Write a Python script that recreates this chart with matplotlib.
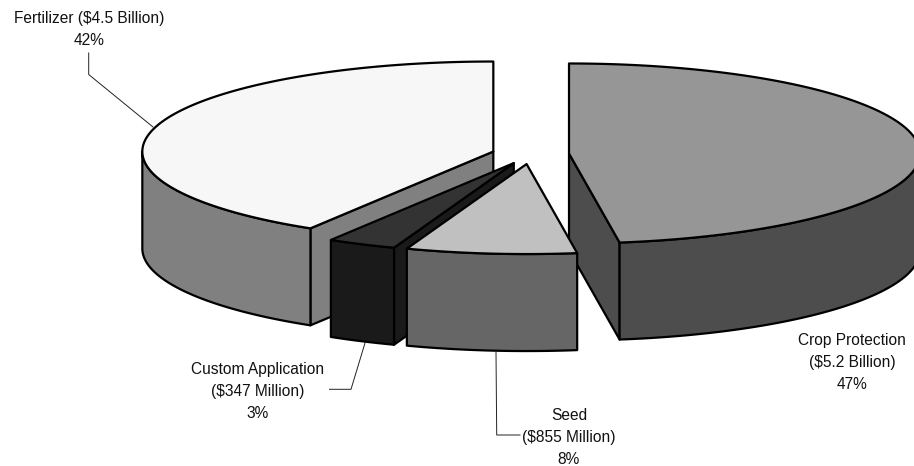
import numpy as np
import matplotlib
matplotlib.use("Agg")
import matplotlib.pyplot as plt

# Farm input spending, clockwise from 12 o'clock (billions of dollars)
categories = ["Crop Protection", "Seed", "Custom Application", "Fertilizer"]
values_bn = [5.2, 0.855, 0.347, 4.5]
top_colors = ["#969696", "#c0c0c0", "#333333", "#f7f7f7"]
side_colors = ["#4d4d4d", "#666666", "#1a1a1a", "#808080"]
label_lines = [
    ["Crop Protection", "($5.2 Billion)", "47%"],
    ["Seed", "($855 Million)", "8%"],
    ["Custom Application", "($347 Million)", "3%"],
    ["Fertilizer ($4.5 Billion)", "42%"],
]
label_x = [852, 569, 258, 89.5]
label_y = [339.5, 414.5, 368, 17.5]
line_step = 21.8

# Projected pie geometry, in pixel units of the canvas
CX, CY = 530.5, 154.2
RX, RY = 351.0, 90.0
DEPTH = 97.0
EXPLODE = 0.11
EDGE = 1.6

plt.rcParams["font.family"] = ["Liberation Sans", "DejaVu Sans"]
fig = plt.figure(figsize=(9.14, 4.66), dpi=100)
ax = fig.add_axes([0, 0, 1, 1])
ax.set_xlim(0, 914)
ax.set_ylim(466, 0)
ax.axis("off")


def ellipse_xy(apex, t):
    t = np.radians(t)
    return apex[0] + RX * np.sin(t), apex[1] - RY * np.cos(t)


def face(xs, ys, color, z):
    ax.fill(xs, ys, facecolor=color, edgecolor="black", linewidth=EDGE,
            joinstyle="round", zorder=z)


def draw_slice(start, sweep, top, side, z):
    end = start + sweep
    mid = np.radians(start + sweep / 2)
    apex = (CX + EXPLODE * RX * np.sin(mid), CY - EXPLODE * RY * np.cos(mid))

    # Cut faces that look toward the viewer
    for t in (start, end):
        if (t == start and 180 < t % 360 < 360) or (t == end and 0 < t % 360 < 180):
            ex, ey = ellipse_xy(apex, t)
            face([apex[0], ex, ex, apex[0]],
                 [apex[1], ey, ey + DEPTH, apex[1] + DEPTH], side, z)

    # Outer rim along the front half of the ellipse
    lo, hi = max(start, 90), min(end, 270)
    if hi > lo:
        rim = np.linspace(lo, hi, 120)
        rx, ry = ellipse_xy(apex, rim)
        face(np.r_[rx, rx[::-1]], np.r_[ry, ry[::-1] + DEPTH], side, z + 0.1)

    # Top surface
    arc = np.linspace(start, end, 300)
    ax_, ay_ = ellipse_xy(apex, arc)
    face(np.r_[apex[0], ax_], np.r_[apex[1], ay_], top, z + 0.2)


sweeps = 360 * np.array(values_bn) / sum(values_bn)
starts = np.r_[0, np.cumsum(sweeps)[:-1]]

# Painter's order: back slices first, the small front slices last
for order, i in enumerate([0, 3, 2, 1]):
    draw_slice(starts[i], sweeps[i], top_colors[i], side_colors[i], order + 2)

# Leader lines
leaders = [
    ([88.7, 88.7, 153], [53, 74.5, 127]),
    ([365, 351, 329.5], [343, 389.3, 389.3]),
    ([496, 496.7, 520], [352, 435, 435]),
]
for lx, ly in leaders:
    ax.plot(lx, ly, color="#222222", linewidth=0.7, zorder=1.5)

# Category labels
for lines, x, y in zip(label_lines, label_x, label_y):
    for j, line in enumerate(lines):
        ax.text(x, y + j * line_step, line, ha="center", va="center_baseline",
                fontsize=11.2, color="#111111")

fig.savefig("out.png", dpi=100)
